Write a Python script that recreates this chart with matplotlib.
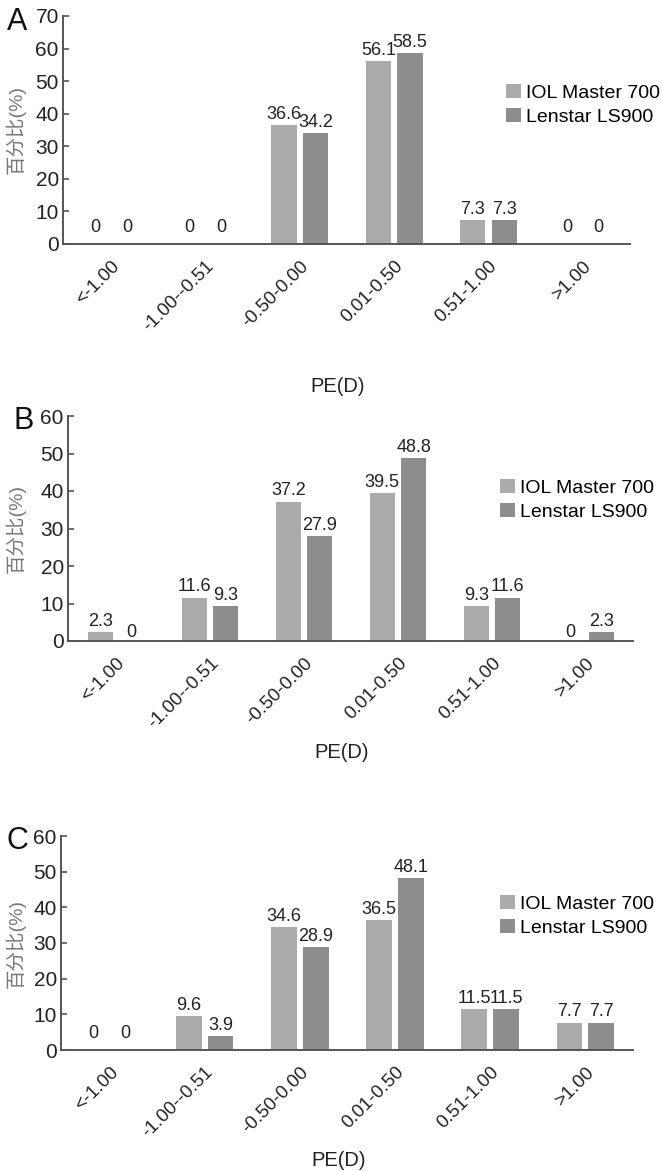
import numpy as np
import matplotlib
matplotlib.use('Agg')
import matplotlib.pyplot as plt

plt.rcParams['font.family'] = ['Liberation Sans', 'Noto Sans CJK SC', 'DejaVu Sans']

categories = ['<-1.00', '-1.00--0.51', '-0.50-0.00', '0.01-0.50', '0.51-1.00', '>1.00']
series_names = ['IOL Master 700', 'Lenstar LS900']

iol_a = [0, 0, 36.6, 56.1, 7.3, 0]
len_a = [0, 0, 34.2, 58.5, 7.3, 0]
iol_b = [2.3, 11.6, 37.2, 39.5, 9.3, 0]
len_b = [0, 9.3, 27.9, 48.8, 11.6, 2.3]
iol_c = [0, 9.6, 34.6, 36.5, 11.5, 7.7]
len_c = [0, 3.9, 28.9, 48.1, 11.5, 7.7]

ymax = {'A': 70, 'B': 60, 'C': 60}

W, H = 662, 1171
fig = plt.figure(figsize=(W / 100, H / 100), dpi=100)

col_light = '#aaaaaa'
col_dark = '#8d8d8d'
axis_col = '#555555'
txt_col = '#222222'


def px_axes(left, top, right, bottom):
    return fig.add_axes([left / W, 1 - bottom / H, (right - left) / W, (bottom - top) / H])


def panel(letter, box, iol, lens, legend_xy, letter_xy, ylab_x, xlab_y, zero_off):
    ax = px_axes(*box)
    x = np.arange(len(categories))
    w = 0.27
    off = 0.167
    ax.bar(x - off, iol, w, color=col_light, label=series_names[0])
    ax.bar(x + off, lens, w, color=col_dark, label=series_names[1])
    for xs, vals in ((x - off, iol), (x + off, lens)):
        for xi, v in zip(xs, vals):
            ax.annotate(f'{v:g}', (xi, v), xytext=(0, 1.5 if v > 0 else zero_off),
                        textcoords='offset points', ha='center', va='bottom',
                        fontsize=13, color=txt_col)

    ax.set_xlim(-0.51, 5.5)
    ax.set_ylim(0, ymax[letter])
    ax.set_yticks(np.arange(0, ymax[letter] + 1, 10))
    ax.set_xticks(x)
    ax.set_xticklabels(categories, rotation=45, ha='right', rotation_mode='anchor',
                       fontsize=13.5, color=txt_col)
    ax.tick_params(axis='x', length=0, pad=10)
    ax.tick_params(axis='y', direction='in', length=4, width=1.2, color=axis_col,
                   labelsize=15, labelcolor=txt_col, pad=3)
    for s in ['top', 'right']:
        ax.spines[s].set_visible(False)
    for s in ['left', 'bottom']:
        ax.spines[s].set_color(axis_col)
        ax.spines[s].set_linewidth(1.4)

    bl, bt, br, bb = box
    ax.set_ylabel('百分比(%)', fontsize=14, color='#777777')
    ax.yaxis.set_label_coords((ylab_x - bl) / (br - bl), 0.5)
    ax.yaxis.label.set_verticalalignment('center')
    ax.set_xlabel('PE(D)', fontsize=14.5, color=txt_col)
    ax.xaxis.set_label_coords(0.485, -(xlab_y - bb) / (bb - bt))
    ax.xaxis.label.set_verticalalignment('center')

    ax.legend(loc='upper left', bbox_to_anchor=(legend_xy[0] / W, 1 - legend_xy[1] / H),
              bbox_transform=fig.transFigure, frameon=False, fontsize=14,
              handlelength=0.75, handleheight=0.75, handletextpad=0.3,
              labelspacing=0.3, borderaxespad=0, borderpad=0)

    fig.text(letter_xy[0] / W, 1 - letter_xy[1] / H, letter, fontsize=22,
             ha='center', va='center', color='#111111', fontstretch='condensed')
    return ax


panel('A', (63, 16, 630, 244), iol_a, len_a, (506, 84), (17, 22), 16, 386, 6)
panel('B', (68, 416, 633, 641), iol_b, len_b, (500, 479), (24, 421), 16, 752, 0)
panel('C', (61, 836, 633, 1050), iol_c, len_c, (500, 895), (17, 841), 16, 1161, 6)

fig.savefig('out.png', dpi=100, facecolor='white')
